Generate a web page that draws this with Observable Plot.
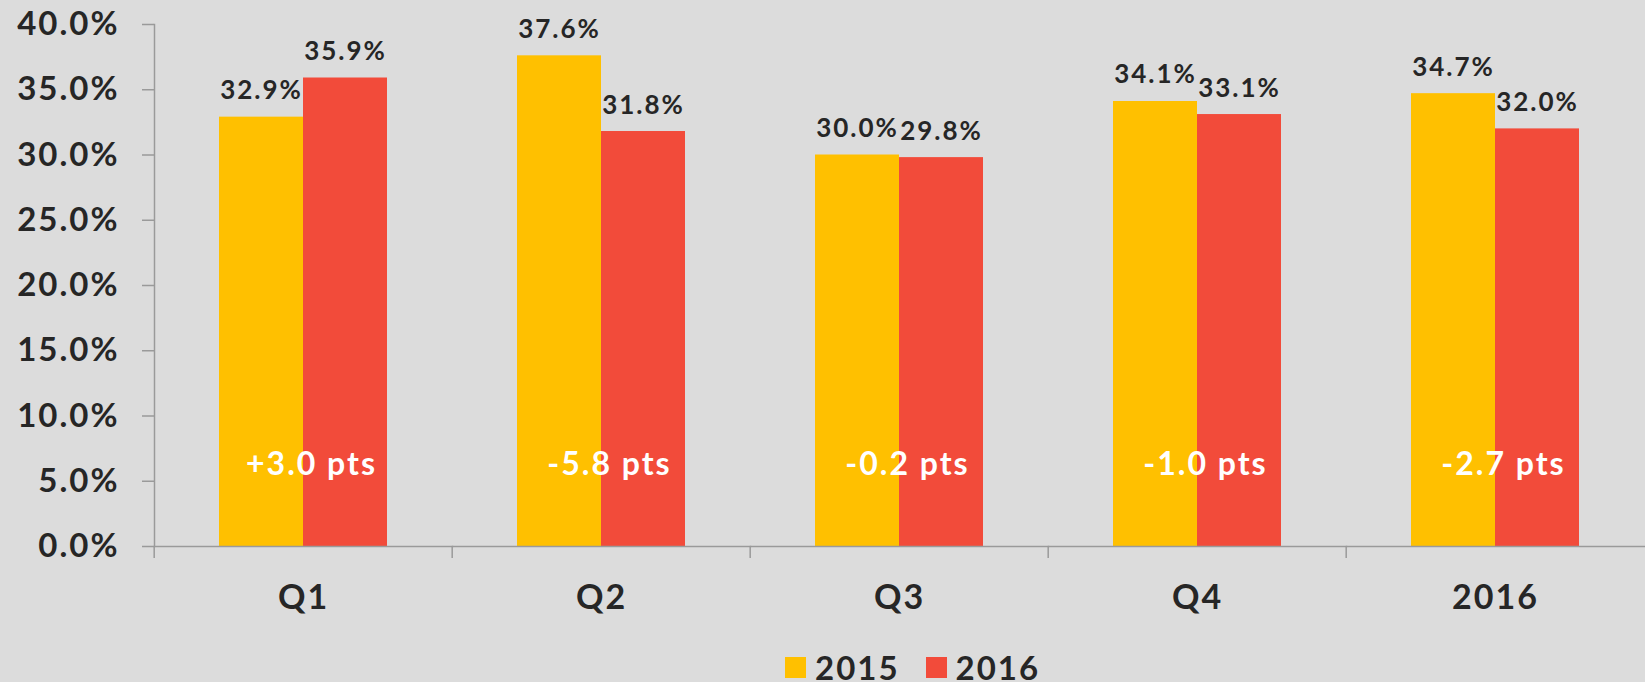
<!DOCTYPE html>
<html>
<head>
<meta charset="utf-8">
<script src="https://cdn.jsdelivr.net/npm/d3@7"></script>
<script src="https://cdn.jsdelivr.net/npm/@observablehq/plot@0.6"></script>
<style>
  html, body { margin: 0; padding: 0; background: #dcdcdc; overflow: hidden; }
  body { width: 1645px; height: 682px; position: relative; font-family: Lato, sans-serif; }
  #chart svg { display: block; }
  #legend { position: absolute; left: 785px; top: 650px; display: flex; align-items: center; font-size: 33px; font-weight: 700; color: #262626; line-height: 34px; white-space: nowrap; letter-spacing: 2px; }
  .sw { width: 21px; height: 21px; display: inline-block; margin-right: 9px; }
  .item { display: flex; align-items: center; margin-right: 26px; }
</style>
</head>
<body>
<div id="chart"></div>
<div id="legend"></div>
<script>
const categories = ["Q1", "Q2", "Q3", "Q4", "2016"];
const series = ["2015", "2016"];
const values2015 = [0.329, 0.376, 0.300, 0.341, 0.347];
const values2016 = [0.359, 0.318, 0.298, 0.331, 0.320];
const deltaLabels = ["+3.0 pts", "-5.8 pts", "-0.2 pts", "-1.0 pts", "-2.7 pts"];
const yTicks = [0, 0.05, 0.10, 0.15, 0.20, 0.25, 0.30, 0.35, 0.40];
const seriesColors = ["#FFC000", "#F24B3A"];

const data = categories.flatMap((c, i) => [
  {category: c, series: series[0], value: values2015[i]},
  {category: c, series: series[1], value: values2016[i]}
]);
const deltas = categories.map((c, i) => ({category: c, label: deltaLabels[i]}));

const W = 1645, H = 640, mL = 152, mR = 0, mT = 24, mB = 94;
const facetWidth = (W - mL - mR) / categories.length;
const pct = d3.format(".1%");
const ink = "#262626";
const axisGray = "#9a9a9a";

const chart = Plot.plot({
  width: W,
  height: H,
  marginLeft: mL,
  marginRight: mR,
  marginTop: mT,
  marginBottom: mB,
  style: {background: "transparent", fontFamily: "Lato, sans-serif", color: ink, letterSpacing: "2px", overflow: "visible"},
  fx: {domain: categories, paddingInner: 0, paddingOuter: 0, label: null, axis: null},
  x: {domain: series, paddingInner: 0, paddingOuter: 0.76, axis: null},
  y: {domain: [0, 0.4], label: null, axis: null},
  color: {domain: series, range: seriesColors},
  marks: [
    Plot.barY(data, {fx: "category", x: "series", y: "value", fill: "series"}),
    Plot.text(data, {fx: "category", x: "series", y: "value", text: d => pct(d.value),
      lineAnchor: "bottom", dy: -18, fontSize: 26, fontWeight: 700, fill: ink}),
    Plot.text(deltas, {fx: "category", text: "label", frameAnchor: "bottom",
      lineAnchor: "bottom", dy: -72, dx: 8, fontSize: 32, fontWeight: 700, fill: "white"}),
    Plot.frame({anchor: "left", facetAnchor: "left", stroke: axisGray, strokeWidth: 1.5}),
    Plot.frame({anchor: "bottom", stroke: axisGray, strokeWidth: 1.5}),
    Plot.axisY({ticks: yTicks, tickFormat: pct, tickSize: 12, tickPadding: 23,
      fontSize: 33, fontWeight: 700, stroke: axisGray, strokeWidth: 1.5, fill: ink, label: null}),
    Plot.axisFx({anchor: "bottom", tickSize: 12, text: null, dx: -facetWidth / 2, stroke: axisGray, strokeWidth: 1.5, label: null}),
    Plot.axisFx({anchor: "bottom", tickSize: 0, tickPadding: 38, fontSize: 34, fontWeight: 700, fill: ink, label: null})
  ]
});
document.getElementById("chart").appendChild(chart);

const legend = document.getElementById("legend");
series.forEach((s, i) => {
  const item = document.createElement("div");
  item.className = "item";
  const sw = document.createElement("span");
  sw.className = "sw";
  sw.style.background = seriesColors[i];
  const t = document.createElement("span");
  t.textContent = s;
  item.appendChild(sw);
  item.appendChild(t);
  legend.appendChild(item);
});
</script>
</body>
</html>
